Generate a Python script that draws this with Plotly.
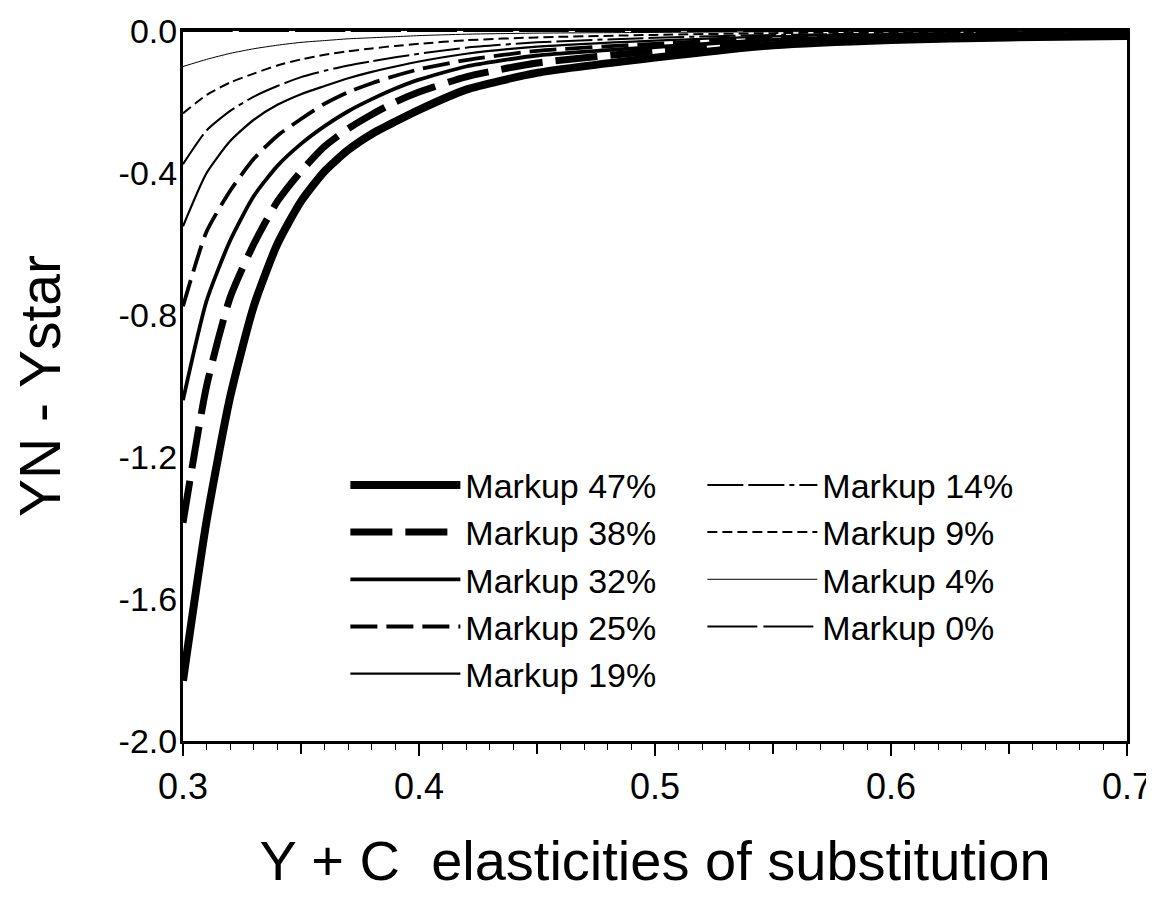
import plotly.graph_objects as go

# Elasticity of substitution (x)
elasticity = [0.30, 0.31, 0.32, 0.33, 0.34, 0.35, 0.36, 0.37, 0.38, 0.39,
              0.40, 0.42, 0.45, 0.50, 0.55, 0.60, 0.65, 0.70]

# YN - Ystar for each markup
markup_47 = [-1.83, -1.38, -1.03, -0.775, -0.60, -0.48, -0.395, -0.335, -0.29, -0.255,
             -0.222, -0.165, -0.118, -0.075, -0.040, -0.025, -0.018, -0.014]
markup_38 = [-1.385, -1.00, -0.75, -0.60, -0.48, -0.395, -0.325, -0.275, -0.235, -0.20,
             -0.172, -0.129, -0.090, -0.057, -0.032, -0.020, -0.015, -0.012]
markup_32 = [-1.04, -0.76, -0.59, -0.465, -0.38, -0.318, -0.268, -0.226, -0.192, -0.162,
             -0.137, -0.100, -0.069, -0.045, -0.025, -0.016, -0.012, -0.010]
markup_25 = [-0.775, -0.565, -0.45, -0.36, -0.295, -0.248, -0.205, -0.172, -0.147, -0.126,
             -0.108, -0.082, -0.056, -0.036, -0.020, -0.013, -0.010, -0.008]
markup_19 = [-0.55, -0.40, -0.31, -0.25, -0.208, -0.178, -0.155, -0.133, -0.115, -0.100,
             -0.086, -0.064, -0.044, -0.027, -0.015, -0.009, -0.007, -0.006]
markup_14 = [-0.375, -0.28, -0.225, -0.185, -0.155, -0.130, -0.112, -0.097, -0.085, -0.074,
             -0.064, -0.047, -0.032, -0.019, -0.011, -0.007, -0.005, -0.004]
markup_9 = [-0.232, -0.18, -0.145, -0.12, -0.097, -0.080, -0.067, -0.057, -0.049, -0.042,
            -0.036, -0.026, -0.018, -0.011, -0.006, -0.004, -0.003, -0.002]
markup_4 = [-0.100, -0.080, -0.063, -0.050, -0.040, -0.032, -0.027, -0.022, -0.019, -0.016,
            -0.013, -0.009, -0.006, -0.004, -0.002, -0.001, -0.001, -0.001]
markup_0 = [0.0] * len(elasticity)

series_names = ["Markup 47%", "Markup 38%", "Markup 32%", "Markup 25%", "Markup 19%",
                "Markup 14%", "Markup 9%", "Markup 4%", "Markup 0%"]
series_values = [markup_47, markup_38, markup_32, markup_25, markup_19,
                 markup_14, markup_9, markup_4, markup_0]

# axis tick labels
x_tick_vals = [0.3, 0.4, 0.5, 0.6, 0.7]
x_tick_text = ["0.3", "0.4", "0.5", "0.6", "0.7"]
y_tick_vals = [0.0, -0.4, -0.8, -1.2, -1.6, -2.0]
y_tick_text = ["0.0", "-0.4", "-0.8", "-1.2", "-1.6", "-2.0"]

styles = {
    "Markup 47%": dict(width=8, dash="solid"),
    "Markup 38%": dict(width=7, dash="42px,13px"),
    "Markup 32%": dict(width=3.8, dash="solid"),
    "Markup 25%": dict(width=3.8, dash="27px,9px"),
    "Markup 19%": dict(width=2.2, dash="solid"),
    "Markup 14%": dict(width=2, dash="36px,5px,36px,5px,5px,5px"),
    "Markup 9%": dict(width=2, dash="10px,5px"),
    "Markup 4%": dict(width=1, dash="solid"),
    "Markup 0%": dict(width=2, dash="50px,6px"),
}
# legend order (row-major for a 2-column horizontal legend)
legend_order = ["Markup 47%", "Markup 14%", "Markup 38%", "Markup 9%", "Markup 32%",
                "Markup 4%", "Markup 25%", "Markup 0%", "Markup 19%"]

FONT = "Liberation Sans, Arial, sans-serif"

fig = go.Figure()
for name, vals in zip(series_names, series_values):
    st = styles[name]
    fig.add_trace(go.Scatter(
        x=elasticity, y=vals, mode="lines", name=name,
        line=dict(color="black", width=st["width"], dash=st["dash"], shape="spline", smoothing=0.6),
        legendrank=legend_order.index(name) + 1,
    ))

# invisible trace on secondary x axis for 0.05 major ticks
fig.add_trace(go.Scatter(x=[elasticity[0], elasticity[-1]], y=[None, None], xaxis="x2",
                         showlegend=False, hoverinfo="skip"))

fig.update_layout(
    width=1154, height=915,
    paper_bgcolor="white", plot_bgcolor="white",
    margin=dict(l=175, r=35, t=23, b=182, autoexpand=False),
    font=dict(family=FONT, color="black", size=34),
    showlegend=True,
    legend=dict(
        orientation="h", x=0.172, y=0.401, xanchor="left", yanchor="top",
        entrywidth=232, entrywidthmode="pixels", itemwidth=110,
        font=dict(family=FONT, size=34), bgcolor="rgba(0,0,0,0)", borderwidth=0,
        traceorder="normal",
    ),
    xaxis=dict(
        range=[0.3, 0.7], tickvals=x_tick_vals, ticktext=x_tick_text,
        ticks="outside", ticklen=12, tickwidth=1.5, tickcolor="black",
        minor=dict(dtick=0.01, tick0=0.3, ticks="outside", ticklen=6, tickwidth=1.2, tickcolor="black"),
        showline=True, linecolor="black", linewidth=3, mirror=True,
        showgrid=False, zeroline=False, automargin=False,
        tickfont=dict(size=36),
        title=dict(text="Y + C\u00a0 elasticities of substitution", font=dict(size=56), standoff=35),
    ),
    xaxis2=dict(
        overlaying="x", matches="x", range=[0.3, 0.7], side="bottom",
        tickvals=[0.35, 0.45, 0.55, 0.65], showticklabels=False,
        ticks="outside", ticklen=12, tickwidth=1.5, tickcolor="black",
        showgrid=False, zeroline=False, showline=False,
    ),
    yaxis=dict(
        range=[-2.0, 0.0], tickvals=y_tick_vals, ticktext=y_tick_text,
        ticks="", showline=True, linecolor="black", linewidth=3, mirror=True,
        showgrid=False, zeroline=False, ticklabelstandoff=-4, automargin=False,
        tickfont=dict(size=34),
        title=dict(text="YN - Ystar", font=dict(size=57), standoff=40),
    ),
)

fig.write_html("out.html")
